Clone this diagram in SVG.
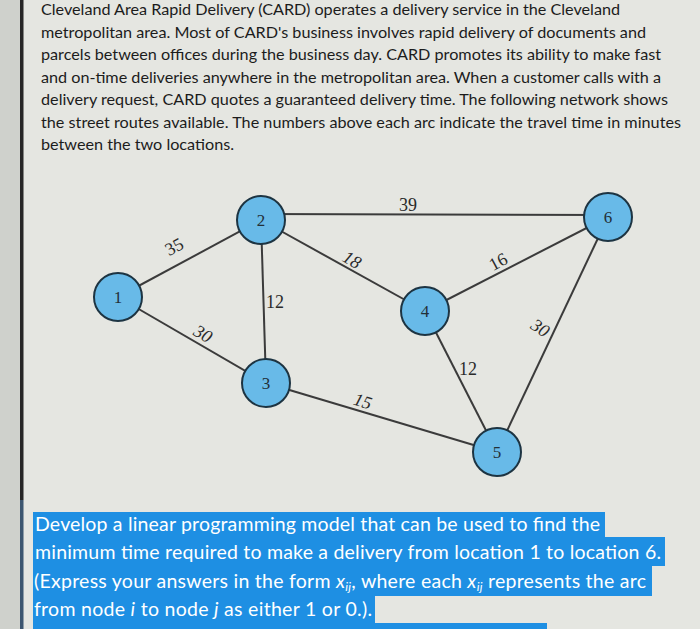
<svg xmlns="http://www.w3.org/2000/svg" width="700" height="629" viewBox="0 0 700 629">
<style>
.para{font-family:Lato,"Open Sans","Liberation Sans",sans-serif;font-size:16.2px;fill:#1c1c1c}
.q{font-family:Lato,"Open Sans","Liberation Sans",sans-serif;font-size:19.5px;fill:#ffffff}
.hl{fill:#1e8fe3}
.edge{stroke:#3b3b3b;stroke-width:2;fill:none}
.node circle{fill:#68bae8;stroke:#1d3442;stroke-width:2}
.node text{font-family:"Liberation Serif","Times New Roman",serif;font-size:17px;fill:#233038;text-anchor:middle}
.lbl{font-family:"Liberation Serif","Times New Roman",serif;font-size:18px;fill:#2a2a2a;text-anchor:middle}
</style>
<rect x="0" y="0" width="700" height="629" fill="#e5e6e1"/>
<rect x="0" y="0" width="20" height="629" fill="#cfd1cc"/>
<rect x="20" y="0" width="3.5" height="500" fill="#262626"/>
<rect x="20" y="500" width="3.5" height="129" fill="#3d5670"/>

<g id="problem-text">
<text class="para" x="41" y="15" textLength="579">Cleveland Area Rapid Delivery (CARD) operates a delivery service in the Cleveland</text>
<text class="para" x="41" y="37.5" textLength="605">metropolitan area. Most of CARD's business involves rapid delivery of documents and</text>
<text class="para" x="41" y="60" textLength="620">parcels between offices during the business day. CARD promotes its ability to make fast</text>
<text class="para" x="41" y="82.5" textLength="620">and on-time deliveries anywhere in the metropolitan area. When a customer calls with a</text>
<text class="para" x="41" y="105" textLength="627">delivery request, CARD quotes a guaranteed delivery time. The following network shows</text>
<text class="para" x="41" y="127.5" textLength="640">the street routes available. The numbers above each arc indicate the travel time in minutes</text>
<text class="para" x="41" y="150" textLength="193">between the two locations.</text>
</g>

<g id="connectors">
<line class="edge" x1="118" y1="297" x2="261" y2="220"/>
<line class="edge" x1="118" y1="297" x2="266" y2="383"/>
<line class="edge" x1="261" y1="220" x2="266" y2="383"/>
<line class="edge" x1="261" y1="214" x2="608" y2="215"/>
<line class="edge" x1="261" y1="220" x2="425" y2="311"/>
<line class="edge" x1="266" y1="383" x2="497" y2="452"/>
<line class="edge" x1="425" y1="311" x2="608" y2="217"/>
<line class="edge" x1="425" y1="311" x2="497" y2="452"/>
<line class="edge" x1="497" y1="452" x2="608" y2="217"/>
<text class="lbl" x="408" y="211">39</text>
<text class="lbl" transform="translate(177,252) rotate(-28)">35</text>
<text class="lbl" transform="translate(349,265) rotate(30)" font-style="italic">18</text>
<text class="lbl" x="275" y="308">12</text>
<text class="lbl" transform="translate(200,339) rotate(30)" font-style="italic">30</text>
<text class="lbl" transform="translate(361,407) rotate(17)" font-style="italic">15</text>
<text class="lbl" transform="translate(501,267) rotate(-28)">16</text>
<text class="lbl" transform="translate(537,333) rotate(33)" font-style="italic">30</text>
<text class="lbl" x="468" y="375">12</text>
</g>

<g id="node-1" class="node"><circle cx="118" cy="297" r="24"/><text x="118" y="303">1</text></g>
<g id="node-2" class="node"><circle cx="261" cy="220" r="24"/><text x="261" y="226">2</text></g>
<g id="node-3" class="node"><circle cx="266" cy="383" r="24"/><text x="266" y="389">3</text></g>
<g id="node-4" class="node"><circle cx="425" cy="311" r="24"/><text x="425" y="317">4</text></g>
<g id="node-5" class="node"><circle cx="497" cy="452" r="24"/><text x="497" y="458">5</text></g>
<g id="node-6" class="node"><circle cx="608" cy="217" r="24"/><text x="608" y="223">6</text></g>

<g id="question">
<rect class="hl" x="33" y="512" width="572" height="25"/>
<rect class="hl" x="33" y="537" width="632" height="29"/>
<rect class="hl" x="33" y="566" width="619" height="30"/>
<rect class="hl" x="33" y="596" width="342" height="27"/>
<rect class="hl" x="33" y="623" width="514" height="6"/>
<text class="q" x="35" y="531" textLength="565">Develop a linear programming model that can be used to find the</text>
<text class="q" x="35" y="559" textLength="626">minimum time required to make a delivery from location 1 to location 6.</text>
<text class="q" x="34" y="588" textLength="612">(Express your answers in the form <tspan font-style="italic">x</tspan><tspan font-style="italic" font-size="12" dy="3">ij</tspan><tspan dy="-3">, where each </tspan><tspan font-style="italic">x</tspan><tspan font-style="italic" font-size="12" dy="3">ij</tspan><tspan dy="-3"> represents the arc</tspan></text>
<text class="q" x="34" y="616" textLength="338">from node <tspan font-style="italic">i</tspan> to node <tspan font-style="italic">j</tspan> as either 1 or 0.).</text>
</g>
</svg>
